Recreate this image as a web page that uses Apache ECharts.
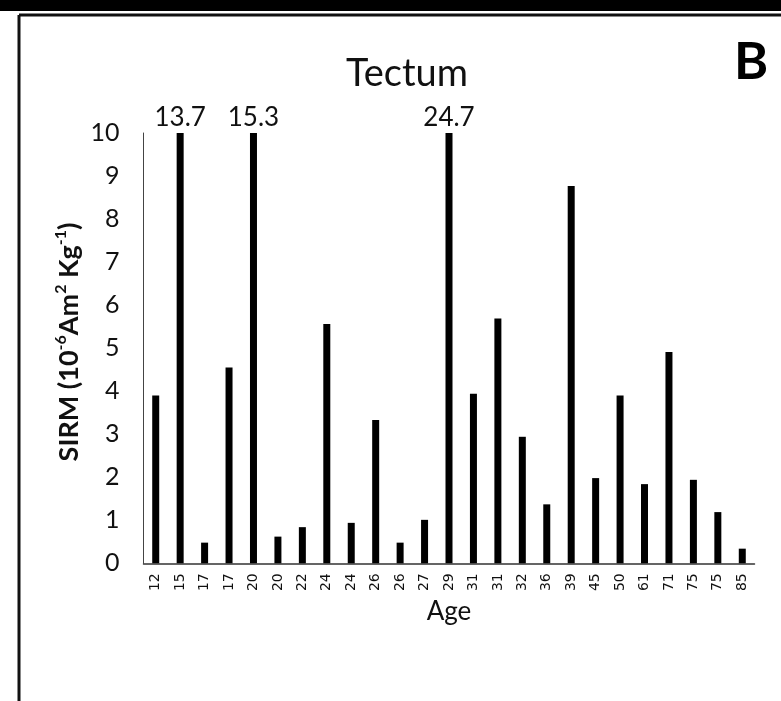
<!DOCTYPE html>
<html>
<head>
<meta charset="utf-8">
<script src="https://cdn.jsdelivr.net/npm/echarts@6/dist/echarts.min.js"></script>
<style>html,body{margin:0;padding:0;background:#fff;}#chart{width:781px;height:701px;}</style>
</head>
<body>
<div id="chart"></div>
<script>
var categories = ['12','15','17','17','20','20','22','24','24','26','26','27','29','31','31','32','36','39','45','50','61','71','75','75','85'];
var sirmValues = [3.9, 13.7, 0.48, 4.55, 15.3, 0.62, 0.84, 5.56, 0.94, 3.33, 0.48, 1.01, 24.7, 3.94, 5.69, 2.94, 1.37, 8.77, 1.98, 3.9, 1.84, 4.91, 1.94, 1.19, 0.34];
var yTicks = [0,1,2,3,4,5,6,7,8,9,10];
var yMax = 10;

var chart = echarts.init(document.getElementById('chart'), null, {renderer: 'canvas'});
var seriesData = sirmValues.map(function (v) {
  return {
    value: Math.min(v, yMax),
    label: { show: v > yMax, formatter: String(v) }
  };
});
chart.setOption({
  backgroundColor: '#ffffff',
  animation: false,
  title: {
    text: 'Tectum',
    left: 402, top: 50,
    textAlign: 'center',
    textStyle: { fontFamily: 'Lato', fontWeight: 'normal', fontSize: 38, color: '#111' }
  },
  graphic: [
    { type: 'rect', shape: { x: 0, y: 0, width: 781, height: 11 }, style: { fill: '#000' } },
    { type: 'line', shape: { x1: 19, y1: 15, x2: 781, y2: 15 }, style: { stroke: '#111', lineWidth: 3 } },
    { type: 'line', shape: { x1: 19, y1: 15, x2: 19, y2: 701 }, style: { stroke: '#111', lineWidth: 3 } },
    { type: 'text', left: 734, top: 36, style: { text: 'B', fontFamily: 'Lato', fontWeight: 'bold', fontSize: 52, fill: '#000' } },
    {
      type: 'text', x: 68, y: 342, rotation: Math.PI / 2,
      style: {
        text: '{b|SIRM (10}{s|-6}{b|Am}{s|2}{b| Kg}{s|-1}{b|)}',
        align: 'center', verticalAlign: 'middle',
        rich: {
          b: { fontFamily: 'Lato', fontWeight: 'bold', fontSize: 27, fill: '#111', verticalAlign: 'bottom', lineHeight: 30 },
          s: { fontFamily: 'Lato', fontWeight: 'bold', fontSize: 16, fill: '#111', verticalAlign: 'top', lineHeight: 30 }
        }
      }
    }
  ],
  grid: { left: 143.5, right: 26.5, top: 133, bottom: 137.7, containLabel: false },
  xAxis: {
    type: 'category',
    data: categories,
    name: 'Age',
    nameLocation: 'middle',
    nameGap: 30,
    nameTextStyle: { fontFamily: 'Lato', fontSize: 26, color: '#111', verticalAlign: 'top' },
    axisLine: { lineStyle: { color: '#333', width: 1.5 } },
    axisTick: { show: false },
    axisLabel: { rotate: 90, margin: 10, fontFamily: 'DejaVu Sans', fontSize: 14, color: '#111', interval: 0 }
  },
  yAxis: {
    type: 'value',
    min: 0, max: yMax, interval: 1,
    axisLine: { show: true, lineStyle: { color: '#444', width: 1 } },
    axisTick: { show: false },
    splitLine: { show: false },
    axisLabel: {
      margin: 24, fontFamily: 'Lato', fontSize: 25, color: '#111',
      formatter: function (v) { return yTicks.indexOf(v) >= 0 ? String(v) : ''; }
    }
  },
  series: [{
    type: 'bar',
    data: seriesData,
    barWidth: 7,
    itemStyle: { color: '#000' },
    label: { position: 'top', distance: 2, fontFamily: 'Lato', fontSize: 26, color: '#111' }
  }]
});
</script>
</body>
</html>
